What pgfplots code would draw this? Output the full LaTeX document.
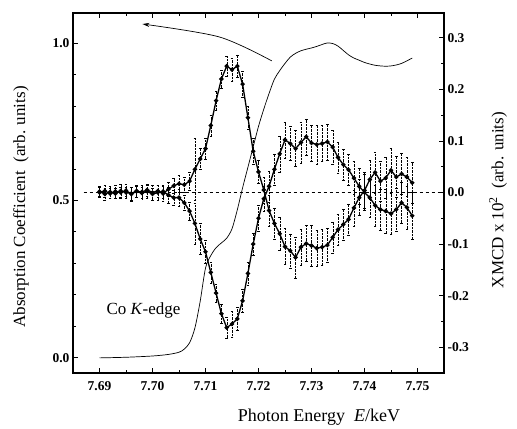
\documentclass[border=0pt]{standalone}
\usepackage{pgfplots}
\pgfplotsset{compat=1.18}
\usepackage{pgfplotstable}
\usepackage{fontspec}
\setmainfont{Liberation Serif}
\usetikzlibrary{arrows.meta}

% XMCD spectra (two field directions), right axis, with error bars
\pgfplotstableread{
E      C1      e1     C2      e2
7.690  0.000  0.010  0.002  0.010
7.691  0.003  0.012 -0.003  0.011
7.692 -0.002  0.010  0.001  0.012
7.693  0.002  0.013 -0.002  0.010
7.694  0.000  0.011  0.003  0.013
7.695  0.004  0.012  0.000  0.011
7.696 -0.003  0.014 -0.002  0.012
7.697  0.002  0.011  0.003  0.012
7.698  0.001  0.013 -0.001  0.011
7.699  0.005  0.012  0.002  0.013
7.700  0.000  0.014 -0.003  0.012
7.701  0.003  0.012  0.000  0.014
7.702 -0.002  0.015  0.002  0.013
7.703  0.006  0.013 -0.005  0.015
7.704  0.013  0.014 -0.010  0.014
7.705  0.017  0.016 -0.010  0.016
7.706  0.015  0.015 -0.020  0.015
7.707  0.022  0.018 -0.036  0.018
7.708  0.045  0.060 -0.060  0.040
7.709  0.065  0.020 -0.090  0.030
7.710  0.085  0.020 -0.115  0.022
7.711  0.130  0.020 -0.155  0.020
7.712  0.178  0.018 -0.195  0.018
7.713  0.220  0.018 -0.235  0.018
7.714  0.245  0.020 -0.262  0.020
7.715  0.238  0.022 -0.255  0.025
7.716  0.245  0.022 -0.245  0.022
7.717  0.210  0.025 -0.210  0.022
7.718  0.145  0.022 -0.157  0.022
7.719  0.080  0.025 -0.100  0.022
7.720  0.040  0.022 -0.050  0.025
7.721  0.005  0.025 -0.012  0.025
7.722 -0.035  0.030  0.012  0.030
7.723 -0.060  0.030  0.045  0.030
7.724 -0.080  0.032  0.075  0.035
7.725 -0.105  0.035  0.102  0.035
7.726 -0.113  0.033  0.095  0.033
7.727 -0.126  0.040  0.085  0.035
7.728 -0.106  0.035  0.097  0.040
7.729 -0.099  0.035  0.108  0.035
7.730 -0.103  0.040  0.096  0.035
7.731 -0.108  0.035  0.093  0.038
7.732 -0.106  0.035  0.095  0.035
7.733 -0.102  0.033  0.098  0.035
7.734 -0.087  0.030  0.088  0.033
7.735 -0.072  0.030  0.068  0.030
7.736 -0.062  0.030  0.054  0.030
7.737 -0.052  0.030  0.044  0.030
7.738 -0.030  0.035  0.028  0.032
7.739 -0.010  0.035  0.012  0.035
7.740  0.004  0.035  0.000  0.035
7.741  0.025  0.038 -0.010  0.038
7.742  0.039  0.040 -0.025  0.040
7.743  0.022  0.038 -0.033  0.040
7.744  0.028  0.040 -0.036  0.042
7.745  0.043  0.042 -0.041  0.040
7.746  0.030  0.040 -0.033  0.042
7.747  0.036  0.040 -0.020  0.040
7.748  0.030  0.038 -0.029  0.042
7.749  0.019  0.040 -0.045  0.045
}\xmcd

% Co K-edge absorption, left axis
\pgfplotstableread{
E      A
7.690  0.000
7.695  0.002
7.700  0.006
7.703  0.011
7.705  0.018
7.706  0.028
7.707  0.048
7.708  0.095
7.709  0.180
7.710  0.285
7.711  0.325
7.712  0.350
7.713  0.365
7.714  0.380
7.715  0.410
7.716  0.470
7.717  0.540
7.718  0.605
7.719  0.670
7.720  0.735
7.721  0.790
7.722  0.840
7.723  0.885
7.724  0.912
7.725  0.935
7.726  0.955
7.727  0.967
7.728  0.975
7.729  0.980
7.730  0.984
7.731  0.989
7.732  0.995
7.733  1.000
7.734  0.998
7.735  0.990
7.736  0.976
7.737  0.962
7.738  0.952
7.739  0.945
7.740  0.938
7.741  0.933
7.742  0.929
7.743  0.927
7.744  0.926
7.745  0.927
7.746  0.930
7.747  0.935
7.748  0.943
7.749  0.952
}\absorb

\begin{document}
\begin{tikzpicture}
\pgfplotsset{
  every axis/.append style={
    width=371pt, height=360pt, scale only axis,
    xmin=7.685, xmax=7.755,
    tick align=inside,
    major tick length=5pt, minor tick length=3pt,
    every tick/.style={line width=0.8pt, black},
    axis line style={line width=1.2pt},
    tick label style={font=\fontsize{13.5}{15}\selectfont\bfseries},
    /pgf/number format/assume math mode=true,
    label style={font=\fontsize{17}{20}\selectfont},
  }
}
\begin{axis}[
  ymin=-0.048, ymax=1.095,
  xtick={7.69,7.70,7.71,7.72,7.73,7.74,7.75},
  minor x tick num=1,
  xtick pos=both, xticklabel pos=lower,
  xticklabel style={yshift=-5pt, /pgf/number format/.cd, fixed, fixed zerofill, precision=2},
  ytick={0,0.5,1}, minor y tick num=4,
  ytick pos=left,
  yticklabel style={/pgf/number format/.cd, fixed, fixed zerofill, precision=1},
  xlabel={Photon Energy\ \ \textit{E}/keV},
  xlabel style={at={(axis description cs:0.663,-0.122)}, anchor=center, font=\fontsize{18}{21}\selectfont},
  ylabel={Absorption Coefficient\ \ (arb. units)},
  ylabel style={at={(axis description cs:-0.140,0.461)}, anchor=center, rotate=0},
]
  \addplot[black, line width=0.7pt, smooth] table[x=E, y=A] {\absorb};
  \draw[line width=0.7pt, -{Stealth[length=7pt, width=4pt]}]
    plot[smooth] coordinates {(axis cs:7.7225,0.943) (axis cs:7.7126,1.019) (axis cs:7.6981,1.06)};
  \node[font=\fontsize{17}{20}\selectfont] at (axis cs:7.6983,0.152) {Co \textit{K}-edge};
\end{axis}
\begin{axis}[
  hide x axis,
  axis y line*=right,
  ymin=-0.350, ymax=0.348,
  ytick={-0.3,-0.2,-0.1,0,0.1,0.2,0.3}, minor y tick num=1,
  yticklabel style={/pgf/number format/.cd, fixed, fixed zerofill, precision=1},
  ylabel={XMCD x 10\textsuperscript{2}\ \ (arb. units)},
  ylabel style={at={(axis description cs:1.146,0.48)}, anchor=center},
  error bars/error bar style={line width=0.4pt, densely dotted},
  error bars/error mark options={rotate=90, mark size=1.3pt, line width=0.4pt, solid},
]
  \addplot[black, dashed, line width=0.5pt, dash pattern=on 3pt off 3pt] coordinates {(7.687,0) (7.754,0)};
  \addplot[black, line width=1.3pt, mark=*, mark size=1.5pt,
    error bars/.cd, y dir=both, y explicit]
    table[x=E, y=C1, y error=e1] {\xmcd};
  \addplot[black, line width=1.3pt, mark=*, mark size=1.5pt,
    error bars/.cd, y dir=both, y explicit]
    table[x=E, y=C2, y error=e2] {\xmcd};
\end{axis}
\useasboundingbox (-73pt,-54pt) rectangle (444pt,373pt);
\end{tikzpicture}
\end{document}
